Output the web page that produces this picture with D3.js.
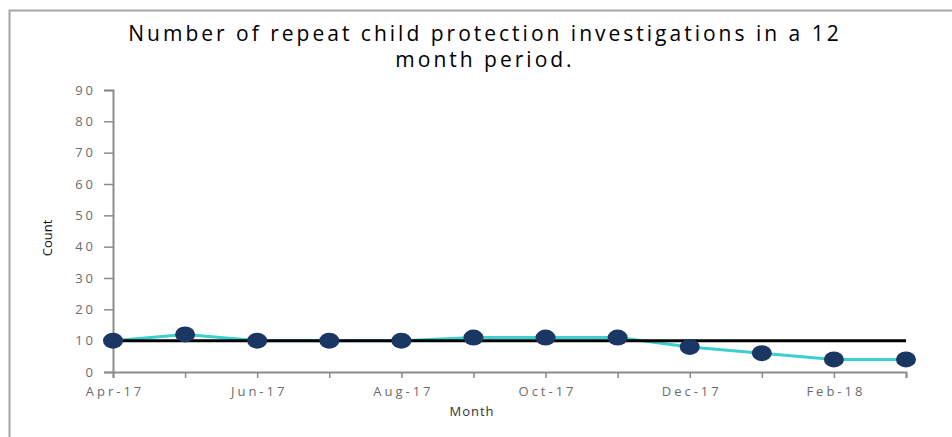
<!DOCTYPE html>
<html>
<head>
<meta charset="utf-8">
<script src="https://cdn.jsdelivr.net/npm/d3@7"></script>
<style>
  body { margin: 0; background: #fff; }
  svg text { font-family: "Open Sans", "Liberation Sans", sans-serif; }
</style>
</head>
<body>
<div id="chart"></div>
<script>
// months and counts
var months = ["Apr-17","May-17","Jun-17","Jul-17","Aug-17","Sep-17","Oct-17","Nov-17","Dec-17","Jan-18","Feb-18","Mar-18"];
var counts = [10, 12, 10, 10, 10, 11, 11, 11, 8, 6, 4, 4];
var target = [10, 10, 10, 10, 10, 10, 10, 10, 10, 10, 10, 10];
var yTicks = [0, 10, 20, 30, 40, 50, 60, 70, 80, 90];

var W = 952, H = 437;
var margin = { left: 113, right: 46, top: 90, bottom: 65 };
var width = W - margin.left - margin.right;
var height = H - margin.top - margin.bottom;

var svg = d3.select("#chart").append("svg")
    .attr("width", W)
    .attr("height", H);

// outer frame
svg.append("path")
    .attr("d", "M9.5," + H + " V10.5 H" + W)
    .attr("fill", "none")
    .attr("stroke", "#a6a6a6")
    .attr("stroke-width", 2);

var titleLines = ["Number of repeat child protection investigations in a 12", "month period."];
svg.selectAll(".title")
    .data(titleLines)
    .enter().append("text")
    .attr("class", "title")
    .attr("x", 485)
    .attr("y", function(d, i) { return 41 + i * 26; })
    .attr("text-anchor", "middle")
    .style("font-size", "21px")
    .style("font-weight", "500")
    .style("letter-spacing", "3px")
    .style("fill", "#000")
    .text(function(d) { return d; });

var g = svg.append("g")
    .attr("transform", "translate(" + margin.left + "," + margin.top + ")");

var x = d3.scalePoint().domain(months).range([0, width]);
var y = d3.scaleLinear().domain([0, 90]).range([height, 0]);

var yAxis = d3.axisLeft(y).tickValues(yTicks).tickSize(9).tickPadding(8);
var xAxis = d3.axisBottom(x).tickSize(6).tickPadding(9)
    .tickFormat(function(d, i) { return i % 2 === 0 ? d : ""; });

var ya = g.append("g").call(yAxis);
var xa = g.append("g").attr("transform", "translate(0," + height + ")").call(xAxis);

[ya, xa].forEach(function(a) {
    a.select(".domain").attr("stroke", "#8c8c8c").attr("stroke-width", 2);
    a.selectAll(".tick line").attr("stroke", "#8c8c8c").attr("stroke-width", 1.5);
    a.selectAll("text").style("font-size", "13px").style("letter-spacing", "3px").style("fill", "#6b6b6b");
});
xa.selectAll("text").attr("dx", "1.5px");

g.append("text")
    .attr("transform", "translate(-61," + (height / 2 + 7) + ") rotate(-90)")
    .attr("text-anchor", "middle")
    .style("font-size", "13px")
    .style("fill", "#111")
    .text("Count");

g.append("text")
    .attr("x", 359).attr("y", height + 44)
    .attr("text-anchor", "middle")
    .style("font-size", "13px")
    .style("letter-spacing", "1px")
    .style("fill", "#333")
    .text("Month");

var line = d3.line()
    .x(function(d, i) { return x(months[i]); })
    .y(function(d) { return y(d); });

g.append("path")
    .datum(counts)
    .attr("fill", "none")
    .attr("stroke", "#3ccfcf")
    .attr("stroke-width", 3)
    .attr("d", line);

g.append("path")
    .datum(target)
    .attr("fill", "none")
    .attr("stroke", "#000")
    .attr("stroke-width", 3)
    .attr("d", line);

g.selectAll(".pt")
    .data(counts)
    .enter().append("ellipse")
    .attr("class", "pt")
    .attr("cx", function(d, i) { return x(months[i]); })
    .attr("cy", function(d) { return y(d); })
    .attr("rx", 10)
    .attr("ry", 8)
    .attr("fill", "#1a3763");
</script>
</body>
</html>
